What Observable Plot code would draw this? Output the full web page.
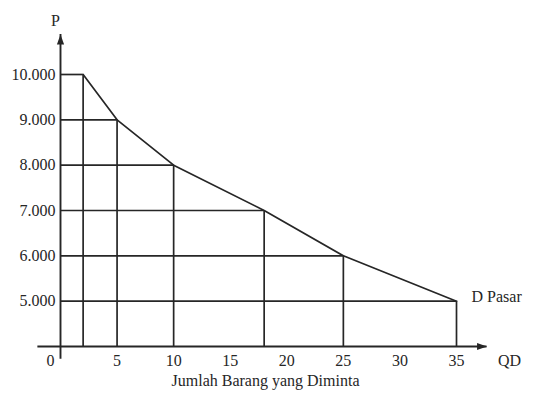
<!DOCTYPE html>
<html>
<head>
<meta charset="utf-8">
<script src="https://cdn.jsdelivr.net/npm/d3@7"></script>
<script src="https://cdn.jsdelivr.net/npm/@observablehq/plot@0.6"></script>
<style>
  html, body { margin: 0; padding: 0; background: #fff; }
  svg text { font-family: "Liberation Serif", "Times New Roman", serif !important; }
</style>
</head>
<body>
<div id="chart"></div>
<script>
// Market demand schedule (quantity demanded vs price)
const quantities = [2, 5, 10, 18, 25, 35];
const prices = [10000, 9000, 8000, 7000, 6000, 5000];
const xTicks = [5, 10, 15, 20, 25, 30, 35];
const yTicks = [5000, 6000, 7000, 8000, 9000, 10000];
const yTickLabels = ["5.000", "6.000", "7.000", "8.000", "9.000", "10.000"];
const curveLabel = "D Pasar";
const xAxisTitle = "Jumlah Barang yang Diminta";
const xAxisName = "QD";
const yAxisName = "P";
// axis extents (data units)
const xAxisExtent = [-2, 37.7];
const yAxisExtent = [3720, 10880];
const yBase = 4000;

const data = quantities.map((q, i) => ({q, p: prices[i]}));
const ink = "#262626";
const font = "'Liberation Serif', 'Times New Roman', serif";

// custom filled arrowhead symbol, tip at origin, pointing up
const arrowHead = {
  draw(ctx) {
    ctx.moveTo(0, 0);
    ctx.lineTo(-3.6, 10);
    ctx.lineTo(3.6, 10);
    ctx.closePath();
  }
};

const txt = {fontSize: 16, fontFamily: font, fill: ink};

const chart = Plot.plot({
  width: 543,
  height: 407,
  marginLeft: 60,
  marginRight: 87,
  marginTop: 74,
  marginBottom: 61,
  x: {domain: [0, 35], axis: null},
  y: {domain: [yBase, 10000], axis: null},
  style: {fontFamily: font, fontSize: "16px", color: ink, background: "#fff"},
  marks: [
    // guide lines
    Plot.ruleY(data, {y: "p", x1: 0, x2: "q", stroke: ink, strokeWidth: 1.7}),
    Plot.ruleX(data, {x: "q", y1: yBase, y2: "p", stroke: ink, strokeWidth: 1.7}),
    // demand curve
    Plot.line(data, {x: "q", y: "p", stroke: ink, strokeWidth: 1.7}),
    // axes
    Plot.ruleY([yBase], {x1: xAxisExtent[0], x2: xAxisExtent[1], stroke: ink, strokeWidth: 1.9}),
    Plot.ruleX([0], {y1: yAxisExtent[0], y2: yAxisExtent[1], stroke: ink, strokeWidth: 1.9}),
    Plot.dot([0], {x: 0, y: yAxisExtent[1], symbol: arrowHead, fill: ink, stroke: null, r: 4}),
    Plot.dot([0], {x: xAxisExtent[1], y: yBase, symbol: arrowHead, fill: ink, stroke: null, r: 4, rotate: 90}),
    // tick labels
    Plot.text(yTicks, {x: 0, y: d => d, text: (d, i) => yTickLabels[i], textAnchor: "end", dx: -5, ...txt}),
    Plot.text(xTicks, {x: d => d, y: yBase, text: d => String(d), dy: 14, ...txt}),
    Plot.text(["0"], {x: 0, y: yBase, text: d => d, dx: -10, dy: 14, ...txt}),
    // axis names
    Plot.text([yAxisName], {x: 0, y: yAxisExtent[1], text: d => d, dx: -5, dy: -14, ...txt}),
    Plot.text([xAxisName], {x: xAxisExtent[1], y: yBase, text: d => d, textAnchor: "start", dx: 11, dy: 14, ...txt}),
    Plot.text([xAxisTitle], {frameAnchor: "bottom", text: d => d, dx: 7, dy: 39, ...txt}),
    // curve label
    Plot.text([data[data.length - 1]], {x: "q", y: "p", text: () => curveLabel, textAnchor: "start", dx: 15, dy: -4, ...txt})
  ]
});
document.getElementById("chart").appendChild(chart);
</script>
</body>
</html>
